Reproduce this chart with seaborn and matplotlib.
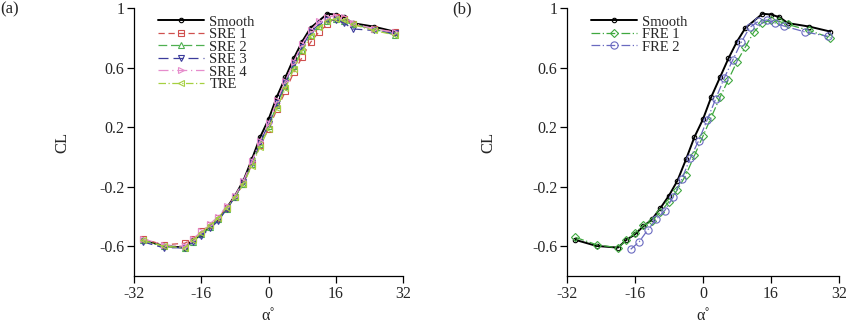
import numpy as np
import pandas as pd
import matplotlib
matplotlib.use('Agg')
import matplotlib.pyplot as plt
import seaborn as sns

# angulos de ataque (graus)
alfa_smooth = [-30, -25, -20, -18, -16, -14, -12, -10, -8, -6, -4, -2, 0, 2, 4, 6, 8, 10,
               14, 16, 18, 20, 25, 30]
alfa_re = [-30, -25, -20, -18, -16, -14, -12, -10, -8, -6, -4, -2, 0, 2, 4, 6, 8, 10,
           12, 14, 16, 18, 20, 25, 30]
alfa_fre2 = [-17, -15, -13, -11, -9, -7, -5, -3, -1, 1, 3, 5, 7, 9, 11, 13, 15, 17,
             19, 24, 29.5]

# coeficiente de sustentacao CL
cl_smooth = [-0.557, -0.598, -0.609, -0.557, -0.52, -0.465, -0.42, -0.343, -0.26, -0.159,
             -0.017, 0.134, 0.253, 0.406, 0.534, 0.662, 0.775, 0.867, 0.962, 0.957,
             0.939, 0.899, 0.876, 0.842]
cl_sre1 = [-0.55, -0.59, -0.58, -0.55, -0.50, -0.46, -0.41, -0.34, -0.27, -0.18, -0.05,
           0.08, 0.19, 0.32, 0.44, 0.57, 0.67, 0.77, 0.84, 0.89, 0.94, 0.93, 0.89, 0.86, 0.84]
cl_sre2 = [-0.56, -0.60, -0.61, -0.57, -0.52, -0.47, -0.42, -0.35, -0.27, -0.18, -0.05,
           0.09, 0.21, 0.35, 0.48, 0.61, 0.72, 0.82, 0.88, 0.91, 0.93, 0.91, 0.89, 0.86, 0.82]
cl_sre3 = [-0.57, -0.61, -0.61, -0.57, -0.53, -0.48, -0.43, -0.35, -0.27, -0.17, -0.04,
           0.10, 0.22, 0.36, 0.50, 0.63, 0.74, 0.84, 0.89, 0.92, 0.92, 0.90, 0.86, 0.85, 0.83]
cl_sre4 = [-0.55, -0.59, -0.60, -0.55, -0.50, -0.45, -0.40, -0.33, -0.26, -0.16, -0.03,
           0.11, 0.23, 0.38, 0.51, 0.64, 0.76, 0.85, 0.91, 0.94, 0.95, 0.94, 0.90, 0.86, 0.84]
cl_tre = [-0.56, -0.60, -0.61, -0.56, -0.51, -0.46, -0.41, -0.34, -0.27, -0.18, -0.06,
          0.07, 0.19, 0.33, 0.46, 0.59, 0.71, 0.81, 0.87, 0.91, 0.93, 0.92, 0.89, 0.85, 0.82]
cl_fre1 = [-0.54, -0.59, -0.61, -0.56, -0.51, -0.46, -0.43, -0.37, -0.30, -0.22, -0.12,
           0.01, 0.14, 0.27, 0.40, 0.52, 0.64, 0.74, 0.84, 0.90, 0.92, 0.91, 0.89, 0.85, 0.80]
cl_fre2 = [-0.62, -0.57, -0.49, -0.42, -0.36, -0.27, -0.15, -0.01, 0.11, 0.25, 0.39, 0.53,
           0.65, 0.77, 0.87, 0.91, 0.92, 0.90, 0.88, 0.84, 0.81]

x_ticks = [-32, -16, 0, 16, 32]
y_ticks = [-0.6, -0.2, 0.2, 0.6, 1]
y_tick_labels = ['-0.6', '-0.2', '0.2', '0.6', '1']

sns.set_style('ticks')
plt.rcParams['font.family'] = ['Liberation Serif', 'DejaVu Serif']


def curva(ax, x, y, label, cor, estilo, marcador, ms=4.5, lw=0.9):
    '''Desenha uma serie CL x alfa com marcadores vazados.'''
    sns.lineplot(x=x, y=y, ax=ax, label=label, color=cor, linestyle=estilo, lw=lw,
                 marker=marcador, markersize=ms, markerfacecolor='none',
                 markeredgecolor=cor, markeredgewidth=0.8)


def formata_eixo(ax, ylabel_x):
    ax.set_xlim(-32, 32)
    ax.set_ylim(-0.8, 1.0)
    ax.set_xticks(x_ticks)
    ax.set_xticklabels([str(t) for t in x_ticks])
    ax.set_yticks(y_ticks)
    ax.set_yticklabels(y_tick_labels)
    ax.tick_params(direction='out', length=5, width=0.9, labelsize=11.5, pad=2, color='black')
    for lado in ['top', 'right']:
        ax.spines[lado].set_visible(False)
    for lado in ['left', 'bottom']:
        ax.spines[lado].set_linewidth(0.9)
        ax.spines[lado].set_color('black')
    ax.set_xlabel('α˚', fontsize=11.5)
    ax.set_ylabel('CL', fontsize=12)
    ax.yaxis.set_label_coords(ylabel_x, 0.5)
    ax.xaxis.set_label_coords(0.5, -0.12)
    ax.legend(loc='upper left', bbox_to_anchor=(0.06, 1.0), frameon=False, fontsize=10.5,
              handlelength=3.2, handletextpad=0.35, labelspacing=-0.05, borderaxespad=0.1)


fig = plt.figure(figsize=(8.5, 3.24), dpi=100)
ax1 = fig.add_axes([0.158, 0.148, 0.316, 0.827])
ax2 = fig.add_axes([0.667, 0.148, 0.320, 0.827])

# (a) rugosidade padrao
curva(ax1, alfa_smooth, cl_smooth, 'Smooth', 'black', '-', 'o', ms=3.2, lw=1.4)
curva(ax1, alfa_re, cl_sre1, 'SRE 1', '#d0504f', (0, (5, 3)), 's')
curva(ax1, alfa_re, cl_sre2, 'SRE 2', '#4fb050', (0, (7, 3)), '^')
curva(ax1, alfa_re, cl_sre3, 'SRE 3', '#3c3c9c', (0, (8, 4)), 'v')
curva(ax1, alfa_re, cl_sre4, 'SRE 4', '#e68ccc', (0, (8, 3, 1, 3)), '>')
curva(ax1, alfa_re, cl_tre, 'TRE', '#a6d040', (0, (6, 2, 1, 2)), '<')
formata_eixo(ax1, -0.238)

# (b) rugosidade frontal
curva(ax2, alfa_smooth, cl_smooth, 'Smooth', 'black', '-', 'o', ms=3.2, lw=1.4)
curva(ax2, alfa_re, cl_fre1, 'FRE 1', '#3fa83f', (0, (7, 2, 1, 2)), 'D', ms=4.2)
curva(ax2, alfa_fre2, cl_fre2, 'FRE 2', '#6a6ac0', (0, (7, 2, 1, 2)), 'o', ms=5.2)
formata_eixo(ax2, -0.26)

fig.text(0.0, 0.995, '(a)', fontsize=12, va='top', ha='left')
fig.text(0.532, 0.995, '(b)', fontsize=12, va='top', ha='left')

fig.savefig('out.png', dpi=100)
